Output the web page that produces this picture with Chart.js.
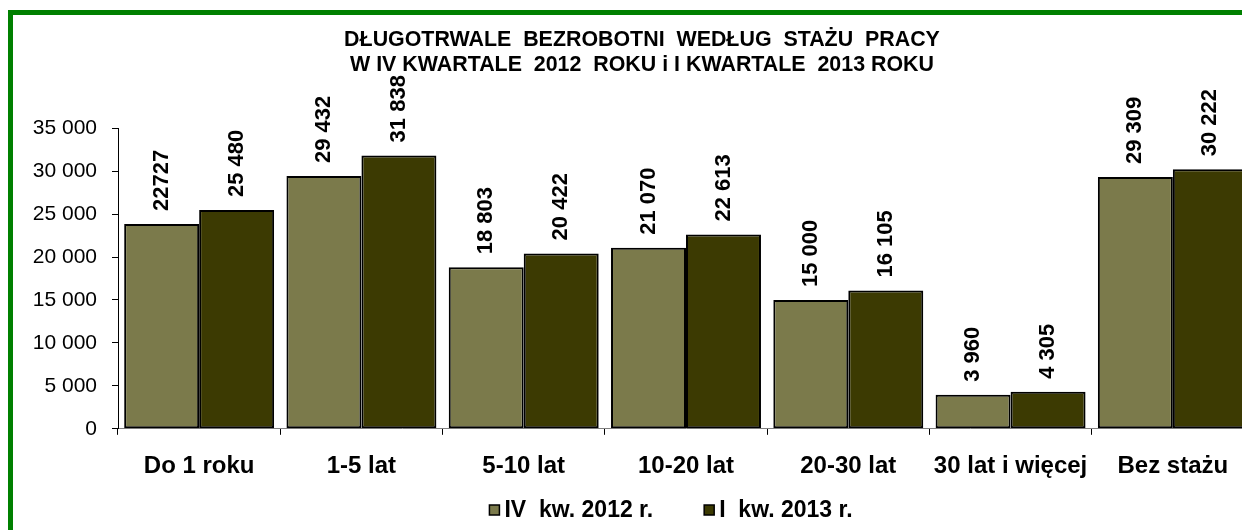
<!DOCTYPE html>
<html>
<head>
<meta charset="utf-8">
<script src="https://cdn.jsdelivr.net/npm/chart.js@4.4.1/dist/chart.umd.min.js"></script>
<style>
    html, body { margin: 0; padding: 0; background: #fff; overflow: hidden; width: 1242px; height: 530px; }
    #frame { position: absolute; left: 8px; top: 10px; width: 1300px; height: 600px; border: 5px solid #008000; }
    #salesChart { position: absolute; left: 0; top: 0; }
</style>
</head>
<body>
<div id="frame"><canvas id="salesChart" width="1262" height="515"></canvas></div>
<script>
const titleLines = ['DŁUGOTRWALE  BEZROBOTNI  WEDŁUG  STAŻU  PRACY', 'W IV KWARTALE  2012  ROKU i I KWARTALE  2013 ROKU'];
const categories = ['Do 1 roku', '1-5 lat', '5-10 lat', '10-20 lat', '20-30 lat', '30 lat i więcej', 'Bez stażu'];
const seriesNames = ['IV  kw. 2012 r.', 'I  kw. 2013 r.'];
const values2012 = [23850, 29432, 18803, 21070, 15000, 3960, 29309];
const values2013 = [25480, 31838, 20422, 22613, 16105, 4305, 30222];
const labels2012 = ['22727', '29 432', '18 803', '21 070', '15 000', '3 960', '29 309'];
const labels2013 = ['25 480', '31 838', '20 422', '22 613', '16 105', '4 305', '30 222'];
const yTicks = [0, 5000, 10000, 15000, 20000, 25000, 30000, 35000];
const colors = ['#7b7a4b', '#3c3a02'];

const FONT = '"Liberation Sans", Arial, sans-serif';

function formatNumber(v) {
    return String(v).replace(/\B(?=(\d{3})+(?!\d))/g, ' ');
}

// rotated value labels above the bars
const barLabels = {
    id: 'barLabels',
    afterDatasetsDraw(chart) {
        const ctx = chart.ctx;
        const texts = [labels2012, labels2013];
        ctx.save();
        ctx.font = 'bold 22px ' + FONT;
        ctx.fillStyle = '#000';
        ctx.textAlign = 'left';
        ctx.textBaseline = 'middle';
        chart.data.datasets.forEach((ds, i) => {
            chart.getDatasetMeta(i).data.forEach((bar, j) => {
                ctx.save();
                ctx.translate(bar.x, bar.y - 13);
                ctx.rotate(-Math.PI / 2);
                ctx.fillText(texts[i][j], 0, 0);
                ctx.restore();
            });
        });
        ctx.restore();
    }
};

// legend drawn like the original: small square, tight gap, wide spacing
const boxLegend = {
    id: 'boxLegend',
    afterDraw(chart) {
        const ctx = chart.ctx;
        ctx.save();
        ctx.font = 'bold 23px ' + FONT;
        const box = 10, gap = 5, spacing = 51;
        const widths = seriesNames.map(n => ctx.measureText(n).width);
        const total = widths.reduce((a, w) => a + box + gap + w, 0) + spacing * (seriesNames.length - 1);
        let x = 658 - total / 2;
        const y = 495;
        ctx.textBaseline = 'middle';
        ctx.textAlign = 'left';
        seriesNames.forEach((name, i) => {
            ctx.fillStyle = colors[i];
            ctx.fillRect(x, y - box / 2, box, box);
            ctx.strokeStyle = '#000';
            ctx.lineWidth = 1.5;
            ctx.strokeRect(x, y - box / 2, box, box);
            ctx.fillStyle = '#000';
            ctx.fillText(name, x + box + gap, y + 1);
            x += box + gap + widths[i] + spacing;
        });
        ctx.restore();
    }
};

document.addEventListener('DOMContentLoaded', function() {
    const ctx = document.getElementById('salesChart').getContext('2d');
    new Chart(ctx, {
        type: 'bar',
        data: {
            labels: categories,
            datasets: [{
                label: seriesNames[0],
                data: values2012,
                backgroundColor: colors[0]
            }, {
                label: seriesNames[1],
                data: values2013,
                backgroundColor: colors[1]
            }]
        },
        options: {
            responsive: false,
            devicePixelRatio: 1,
            animation: false,
            datasets: {
                bar: {
                    barPercentage: 1,
                    categoryPercentage: 0.924,
                    borderColor: '#000',
                    borderWidth: 2,
                    borderSkipped: false
                }
            },
            layout: { padding: { left: 17, right: 21, top: 0, bottom: 32.4 } },
            plugins: {
                legend: { display: false },
                tooltip: { enabled: false },
                title: {
                    display: true,
                    text: titleLines,
                    color: '#000',
                    font: { family: FONT, size: 21.4, weight: 'bold', lineHeight: 1.15 },
                    padding: { top: 13, bottom: 51 }
                }
            },
            scales: {
                x: {
                    grid: { drawOnChartArea: false, drawTicks: true, tickLength: 6, color: '#000', offset: true },
                    border: { display: true, color: '#808080', width: 1 },
                    ticks: {
                        color: '#000',
                        font: { family: FONT, size: 24, weight: 'bold' },
                        padding: 17,
                        maxRotation: 0,
                        autoSkip: false
                    }
                },
                y: {
                    min: yTicks[0],
                    max: yTicks[yTicks.length - 1],
                    afterFit: function(scale) { scale.width = 88; },
                    afterBuildTicks: function(scale) { scale.ticks = yTicks.map(v => ({ value: v })); },
                    grid: { drawOnChartArea: false, drawTicks: true, tickLength: 6, color: '#000' },
                    border: { display: true, color: '#000', width: 1 },
                    ticks: {
                        color: '#000',
                        font: { family: FONT, size: 21 },
                        padding: 15,
                        callback: function(value) { return formatNumber(value); }
                    }
                }
            }
        },
        plugins: [barLabels, boxLegend]
    });
});
</script>
</body>
</html>
